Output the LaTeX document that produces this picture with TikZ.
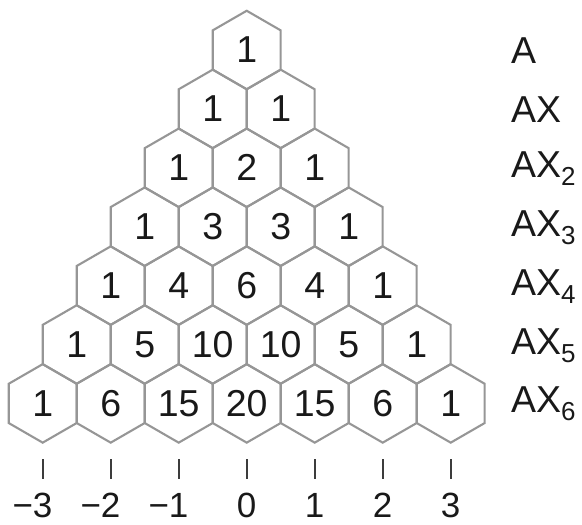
\documentclass[tikz,border=0pt]{standalone}
\usepackage{fontspec}
\setmainfont{Liberation Sans}
\usetikzlibrary{shapes.geometric}
\definecolor{hexgray}{RGB}{150,150,150}
\definecolor{tickgray}{RGB}{60,60,60}
\newcommand{\sbs}[1]{\raisebox{-8pt}{\fontsize{26}{26}\selectfont #1}}
\tikzset{
  hexcell/.style={shape=regular polygon, regular polygon sides=6, regular polygon rotate=30,
    minimum size=78.5pt, inner sep=0pt, outer sep=0pt, draw=hexgray, line width=2.1pt,
    font=\fontsize{37.5}{37.5}\selectfont, text=black!90},
  rowlabel/.style={anchor=west, inner sep=0pt, font=\fontsize{37.5}{37.5}\selectfont, text=black!90},
  axislabel/.style={anchor=base, inner sep=0pt, text depth=0pt, font=\fontsize{35}{35}\selectfont, text=black!90},
  tickline/.style={draw=tickgray, line width=2pt}
}
\begin{document}
\begin{tikzpicture}[x=1pt,y=-1pt]
\useasboundingbox (0,0) rectangle (582,525);
% rows
\foreach \r/\vals in {0/{1},1/{1,1},2/{1,2,1},3/{1,3,3,1},4/{1,4,6,4,1},5/{1,5,10,10,5,1},6/{1,6,15,20,15,6,1}}{
  \foreach \v [count=\k from 0] in \vals {
    \node[hexcell] (h-\r-\k) at ({246.7+(\k-\r/2)*68},{50+\r*58.9}) {\v};
  }
}
% row labels
\node[rowlabel] (l0) at (511,51) {A};
\node[rowlabel] (l1) at (511,110) {AX};
\node[rowlabel] (l2) at (511,169) {AX\sbs{2}};
\node[rowlabel] (l3) at (511,228) {AX\sbs{3}};
\node[rowlabel] (l4) at (511,287) {AX\sbs{4}};
\node[rowlabel] (l5) at (511,346) {AX\sbs{5}};
\node[rowlabel] (l6) at (511,404) {AX\sbs{6}};
% ticks and axis labels
\foreach \k/\t in {0/{\llap{−}3},1/{\llap{−}2},2/{\llap{−}1},3/0,4/1,5/2,6/3}{
  \coordinate (t1-\k) at ([yshift=-16.5pt]h-6-\k.south);
  \coordinate (t2-\k) at ([yshift=-36.5pt]h-6-\k.south);
  \draw[tickline] (t1-\k) -- (t2-\k);
  \node[axislabel] (a-\k) at ([yshift=-75pt]h-6-\k.south) {\t};
}
\end{tikzpicture}
\end{document}
